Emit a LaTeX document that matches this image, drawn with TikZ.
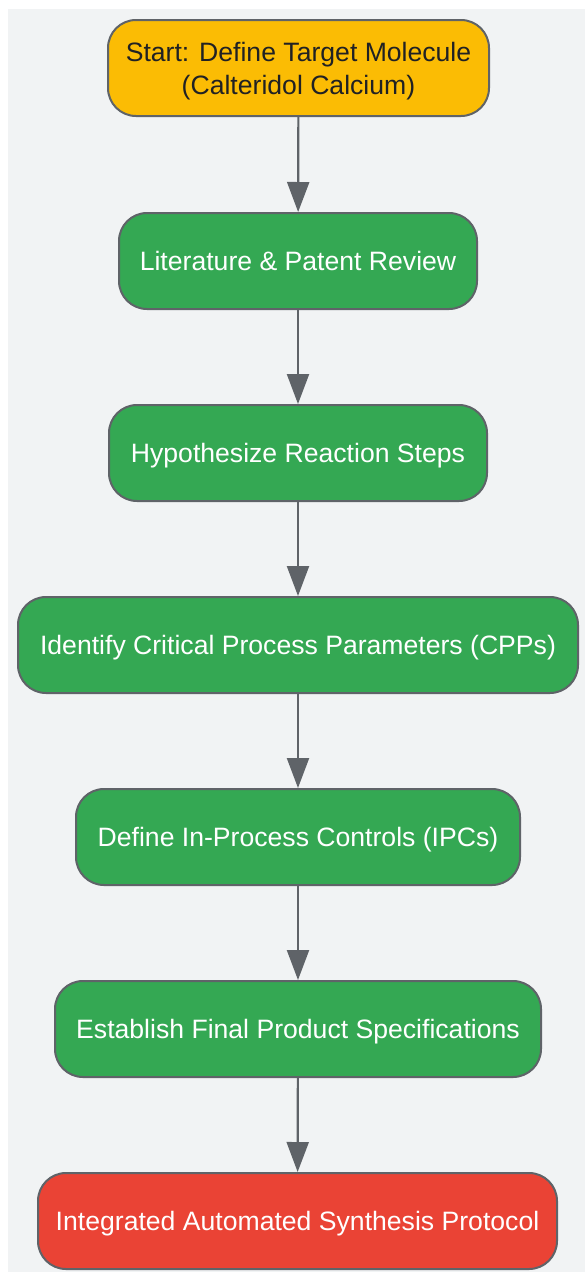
\documentclass[tikz,border=0pt]{standalone}
\usepackage{fontspec}
\setmainfont{Liberation Sans}
\usetikzlibrary{arrows.meta}
\definecolor{bggray}{HTML}{F1F3F4}
\definecolor{gyellow}{HTML}{FBBC04}
\definecolor{ggreen}{HTML}{34A853}
\definecolor{gred}{HTML}{EA4335}
\definecolor{edgegray}{HTML}{5F6368}
\definecolor{darktext}{HTML}{202124}
\tikzset{
  flowbox/.style={draw=edgegray, line width=2pt, rounded corners=28pt,
    minimum height=96pt, inner sep=0pt, align=center, text depth=0pt,
    font=\fontsize{26.6pt}{33pt}\selectfont},
  greenbox/.style={flowbox, fill=ggreen, text=white},
  flowarrow/.style={draw=edgegray, line width=2.2pt, -{Triangle[length=30pt,width=22pt]}}
}
\begin{document}
\begin{tikzpicture}[x=1pt,y=-1pt]
\useasboundingbox (0,0) rectangle (585,1272);
\fill[white] (0,0) rectangle (585,1272);
\fill[bggray] (8,9) rectangle (585,1272);
\node[flowbox, fill=gyellow, text=darktext, minimum width=381pt] (n1) at (298.5,68) {Start: Define Target Molecule\\(Calteridol Calcium)};
\node[greenbox, minimum width=358pt] (n2) at (298,261) {Literature \& Patent Review};
\node[greenbox, minimum width=378pt] (n3) at (298,453) {Hypothesize Reaction Steps};
\node[greenbox, minimum width=560pt] (n4) at (298,645) {Identify Critical Process Parameters (CPPs)};
\node[greenbox, minimum width=444pt] (n5) at (298,837) {Define In-Process Controls (IPCs)};
\node[greenbox, minimum width=486pt] (n6) at (298,1029) {Establish Final Product Specifications};
\node[flowbox, fill=gred, text=white, minimum width=519pt] (n7) at (297.5,1221) {Integrated Automated Synthesis Protocol};
\draw[flowarrow] (n1) -- (n2);
\draw[flowarrow] (n2) -- (n3);
\draw[flowarrow] (n3) -- (n4);
\draw[flowarrow] (n4) -- (n5);
\draw[flowarrow] (n5) -- (n6);
\draw[flowarrow] (n6) -- (n7);
\end{tikzpicture}
\end{document}
